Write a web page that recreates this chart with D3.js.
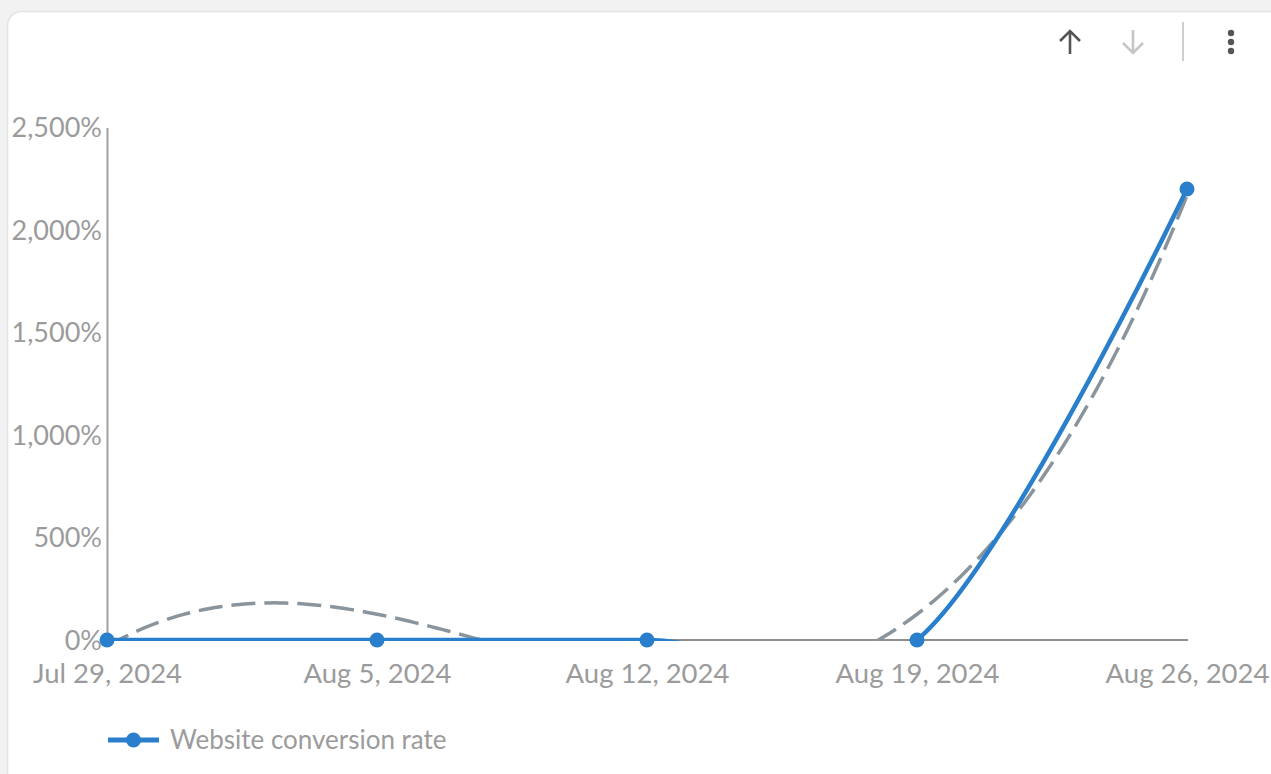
<!DOCTYPE html>
<html>
<head>
<meta charset="utf-8">
<script src="https://cdn.jsdelivr.net/npm/d3@7"></script>
<style>
  html, body { margin: 0; padding: 0; background: #f2f2f2; }
  body { width: 1271px; height: 774px; overflow: hidden; font-family: Lato, "Open Sans", sans-serif; }
</style>
</head>
<body>
<div id="chart"></div>
<script>
// Weekly dates and conversion rate (%)
const weeks = ["2024-07-29", "2024-08-05", "2024-08-12", "2024-08-19", "2024-08-26"];
const conversionRate = [0, 0, 0, 0, 2200];
const yTicks = [0, 500, 1000, 1500, 2000, 2500];
const seriesName = "Website conversion rate";

const W = 1271, H = 774;
const margin = { top: 127.5, right: 84, bottom: 134, left: 107 };
const blue = "#2a7fcc";
const trendGray = "#8a949c";
const labelGray = "#9b9b9b";

const parse = d3.timeParse("%Y-%m-%d");
const data = weeks.map((d, i) => ({ date: parse(d), value: conversionRate[i] }));

const svg = d3.select("#chart").append("svg")
  .attr("width", W)
  .attr("height", H);

// card
svg.append("rect")
  .attr("x", 7.5).attr("y", 11.5)
  .attr("width", W + 20).attr("height", H + 20)
  .attr("rx", 14)
  .attr("fill", "#fff")
  .attr("stroke", "#e4e4e4")
  .attr("stroke-width", 1.5);

const x = d3.scaleTime()
  .domain(d3.extent(data, d => d.date))
  .range([margin.left, W - margin.right]);

const y = d3.scaleLinear()
  .domain([0, 2500])
  .range([H - margin.bottom, margin.top]);

// y axis
const yAxis = svg.append("g")
  .attr("transform", `translate(${margin.left},0)`)
  .call(d3.axisLeft(y).tickValues(yTicks).tickSize(0).tickPadding(5)
    .tickFormat(d => d3.format(",")(d) + "%"));
yAxis.select(".domain").attr("stroke", "#a0a0a0").attr("stroke-width", 2);
yAxis.selectAll("text")
  .attr("fill", labelGray)
  .style("font-family", "Lato")
  .style("font-size", "27px")
  .attr("dy", "0.34em");

// x axis
const xAxis = svg.append("g")
  .attr("transform", `translate(0,${y(0)})`)
  .call(d3.axisBottom(x).tickValues(data.map(d => d.date)).tickSize(0).tickPadding(23)
    .tickFormat(d3.timeFormat("%b %-d, %Y")));
xAxis.select(".domain").attr("stroke", "#8e8e8e").attr("stroke-width", 2)
  .attr("d", `M${margin.left},0H${W - margin.right + 1}`);
xAxis.selectAll("text")
  .attr("fill", labelGray)
  .style("font-family", "Lato")
  .style("font-size", "27.5px");

// cubic least squares trend line
function polyFit(xs, ys, deg) {
  const n = deg + 1;
  const A = Array.from({ length: n }, () => new Array(n + 1).fill(0));
  for (let r = 0; r < n; r++) {
    for (let c = 0; c < n; c++) A[r][c] = d3.sum(xs, v => Math.pow(v, r + c));
    A[r][n] = d3.sum(xs, (v, i) => Math.pow(v, r) * ys[i]);
  }
  for (let i = 0; i < n; i++) {
    let p = i;
    for (let k = i + 1; k < n; k++) if (Math.abs(A[k][i]) > Math.abs(A[p][i])) p = k;
    [A[i], A[p]] = [A[p], A[i]];
    for (let k = i + 1; k < n; k++) {
      const f = A[k][i] / A[i][i];
      for (let c = i; c <= n; c++) A[k][c] -= f * A[i][c];
    }
  }
  const coef = new Array(n).fill(0);
  for (let i = n - 1; i >= 0; i--) {
    let s = A[i][n];
    for (let c = i + 1; c < n; c++) s -= A[i][c] * coef[c];
    coef[i] = s / A[i][i];
  }
  return v => coef.reduce((acc, c, i) => acc + c * Math.pow(v, i), 0);
}

const idx = data.map((d, i) => i);
const trend = polyFit(idx, conversionRate, 3);
const xi = d3.scaleLinear().domain([0, data.length - 1]).range(x.range());
const trendPts = d3.range(0, data.length - 1 + 1e-9, 0.02).map(t => [xi(t), y(trend(t))]);

// hide parts that fall below zero
svg.append("clipPath").attr("id", "above0")
  .append("rect")
  .attr("x", 0).attr("y", 0)
  .attr("width", W).attr("height", y(0) + 1);

const lines = svg.append("g").attr("clip-path", "url(#above0)");

lines.append("path")
  .attr("d", d3.line()(trendPts))
  .attr("fill", "none")
  .attr("stroke", trendGray)
  .attr("stroke-width", 3.5)
  .attr("stroke-dasharray", "24,9");

lines.append("path")
  .datum(data)
  .attr("d", d3.line().x(d => x(d.date)).y(d => y(d.value)).curve(d3.curveCardinal))
  .attr("fill", "none")
  .attr("stroke", blue)
  .attr("stroke-width", 4.5);

svg.append("g")
  .selectAll("circle")
  .data(data)
  .join("circle")
  .attr("cx", d => x(d.date))
  .attr("cy", d => y(d.value))
  .attr("r", 7.5)
  .attr("fill", blue);

// legend
const legend = svg.append("g").attr("transform", "translate(108,740)");
legend.append("line")
  .attr("x1", 0).attr("x2", 51)
  .attr("stroke", blue).attr("stroke-width", 5);
legend.append("circle").attr("cx", 25.5).attr("r", 7.5).attr("fill", blue);
legend.append("text")
  .attr("x", 62).attr("dy", "0.35em")
  .attr("fill", labelGray)
  .style("font-family", "Lato")
  .style("font-size", "26px")
  .text(seriesName);

// toolbar icons
const tb = svg.append("g");
tb.append("path")
  .attr("d", "M1070,54V31M1060,41L1070,31L1080,41")
  .attr("fill", "none").attr("stroke", "#555").attr("stroke-width", 2.6);
tb.append("path")
  .attr("d", "M1133,30V53M1123,43L1133,53L1143,43")
  .attr("fill", "none").attr("stroke", "#c6c6c6").attr("stroke-width", 2.6);
tb.append("line")
  .attr("x1", 1183).attr("x2", 1183).attr("y1", 22).attr("y2", 61)
  .attr("stroke", "#cfcfcf").attr("stroke-width", 2);
tb.selectAll(".dot")
  .data([33, 42, 51])
  .join("circle")
  .attr("cx", 1231).attr("cy", d => d).attr("r", 3.2)
  .attr("fill", "#555");
</script>
</body>
</html>
